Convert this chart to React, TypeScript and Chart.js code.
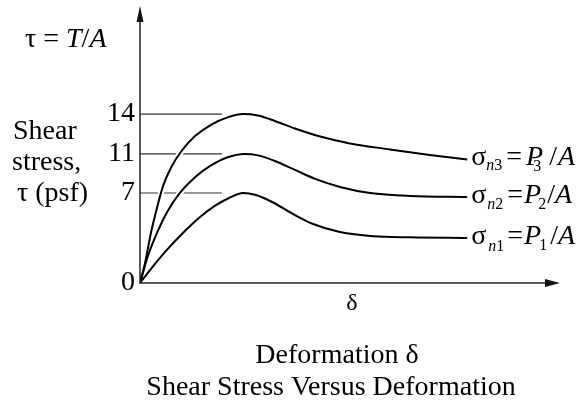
import React, { useEffect, useRef } from 'react';
import { Chart, registerables, LinearScale } from 'chart.js';

Chart.register(...registerables);

// ---------- data ----------
const Y_TICKS = [0, 7, 11, 14];
const Y_MAX = 22;
const X_MAX = 10;
const PEAK_LEVELS = [14, 11, 7];
const PEAK_LINE_END = 1.95;

const topX = [0, 0.12, 0.26, 0.41, 0.55, 0.74, 0.98, 1.31, 1.71, 2.1, 2.45, 2.81, 3.21, 3.69, 4.29, 5.0, 5.95, 6.9, 7.79];
const topY = [0, 1.56, 3.89, 5.91, 7.72, 9.61, 11.18, 12.34, 13.23, 13.77, 14.0, 13.89, 13.48, 12.91, 12.31, 11.79, 11.34, 10.9, 10.44];

const midX = [0, 0.19, 0.41, 0.64, 0.95, 1.31, 1.67, 2.07, 2.5, 2.81, 3.21, 3.69, 4.17, 4.76, 5.48, 6.43, 7.79];
const midY = [0, 2.12, 3.94, 5.49, 7.01, 8.62, 9.77, 10.64, 11.0, 10.85, 10.28, 9.36, 8.44, 7.62, 7.0, 6.77, 6.69];

const lowX = [0, 0.24, 0.64, 1.07, 1.43, 1.79, 2.12, 2.45, 2.76, 3.17, 3.64, 4.12, 4.76, 5.55, 6.43, 7.79];
const lowY = [0, 1.01, 2.57, 4.04, 5.13, 6.01, 6.61, 7.0, 6.84, 6.26, 5.37, 4.59, 3.97, 3.64, 3.55, 3.5];

const TITLE_LINES = ['Deformation δ', 'Shear Stress Versus Deformation'];
const X_LABEL = 'δ';
const Y_LABEL_LINES = ['Shear', 'stress,', 'τ (psf)'];

// ---------- scale (schematic, non-uniform tick spacing) ----------
const Y_BREAKS = [0, 7, 11, 14, Y_MAX];
const Y_FRACS = [0, 0.325, 0.466, 0.61, 1];

function interp(v: number, xs: number[], ys: number[]) {
  if (v <= xs[0]) return ys[0] + (v - xs[0]) * (ys[1] - ys[0]) / (xs[1] - xs[0]);
  for (let i = 1; i < xs.length; i++) {
    if (v <= xs[i]) {
      const t = (v - xs[i - 1]) / (xs[i] - xs[i - 1]);
      return ys[i - 1] + t * (ys[i] - ys[i - 1]);
    }
  }
  const n = xs.length - 1;
  return ys[n] + (v - xs[n]) * (ys[n] - ys[n - 1]) / (xs[n] - xs[n - 1]);
}

class SchematicScale extends LinearScale {
  static id = 'schematic';
  static defaults = LinearScale.defaults;
  getPixelForValue(value: number) {
    return this.getPixelForDecimal(interp(value, Y_BREAKS, Y_FRACS));
  }
  getValueForPixel(pixel: number) {
    return interp(this.getDecimalForPixel(pixel), Y_FRACS, Y_BREAKS);
  }
}
Chart.register(SchematicScale as any);

const FONT = "'Liberation Serif', 'Times New Roman', serif";

type Seg = { t: string; size?: number; italic?: boolean; dy?: number; kern?: number };

function drawRich(ctx: CanvasRenderingContext2D, x: number, baseline: number, segs: Seg[]) {
  ctx.textAlign = 'left';
  ctx.textBaseline = 'alphabetic';
  for (const s of segs) {
    ctx.font = `${s.italic ? 'italic ' : ''}${s.size || 28}px ${FONT}`;
    x += s.kern || 0;
    ctx.fillText(s.t, x, baseline + (s.dy || 0));
    x += ctx.measureText(s.t).width;
  }
}

const RIGHT_LABELS: Seg[][] = [
  [
    { t: 'σ' }, { t: 'n', size: 16, italic: true, dy: 5, kern: 0 }, { t: '3', size: 16, dy: 5 },
    { t: '=', kern: 4 }, { t: 'P', italic: true, kern: 4 }, { t: '3', size: 16, dy: 6, kern: -10 },
    { t: '/', kern: 8 }, { t: 'A', italic: true, kern: 1 },
  ],
  [
    { t: 'σ' }, { t: 'n', size: 16, italic: true, dy: 6, kern: 1 }, { t: '2', size: 16, dy: 6 },
    { t: '=', kern: 4 }, { t: 'P', italic: true, kern: 1 }, { t: '2', size: 16, dy: 6, kern: -3 },
    { t: '/', kern: 1 }, { t: 'A', italic: true },
  ],
  [
    { t: 'σ' }, { t: 'n', size: 16, italic: true, dy: 7, kern: 2 }, { t: '1', size: 16, dy: 7 },
    { t: '=', kern: 3 }, { t: 'P', italic: true, kern: 1 }, { t: '1', size: 16, dy: 6, kern: -2 },
    { t: '/', kern: 3 }, { t: 'A', italic: true },
  ],
];

const decorPlugin = {
  id: 'decor',
  afterDatasetsDraw(chart: any) {
    const ctx: CanvasRenderingContext2D = chart.ctx;
    const { left, right, top, bottom } = chart.chartArea;
    ctx.save();
    ctx.strokeStyle = '#222';
    ctx.fillStyle = '#111';
    ctx.lineWidth = 1.5;
    ctx.beginPath();
    ctx.moveTo(left, bottom + 0.5);
    ctx.lineTo(left, top + 10);
    ctx.stroke();
    ctx.beginPath();
    ctx.moveTo(left, top);
    ctx.lineTo(left - 3.5, top + 16);
    ctx.lineTo(left + 3.5, top + 16);
    ctx.closePath();
    ctx.fill();
    ctx.beginPath();
    ctx.moveTo(left - 0.5, bottom);
    ctx.lineTo(right - 10, bottom);
    ctx.stroke();
    ctx.beginPath();
    ctx.moveTo(right, bottom);
    ctx.lineTo(right - 15, bottom - 4);
    ctx.lineTo(right - 15, bottom + 4);
    ctx.closePath();
    ctx.fill();
    ctx.restore();
  },
  afterDraw(chart: any) {
    const ctx: CanvasRenderingContext2D = chart.ctx;
    const { left, right } = chart.chartArea;
    ctx.save();
    ctx.fillStyle = '#000';
    drawRich(ctx, 25, 47, [
      { t: 'τ = ' }, { t: 'T', italic: true }, { t: '/' }, { t: 'A', italic: true },
    ]);
    ctx.font = `28px ${FONT}`;
    ctx.textAlign = 'left';
    ctx.textBaseline = 'alphabetic';
    ctx.fillText(Y_LABEL_LINES[0], 13, 139);
    ctx.fillText(Y_LABEL_LINES[1], 12, 170);
    ctx.fillText(Y_LABEL_LINES[2], 17, 201);
    ctx.font = `24px ${FONT}`;
    ctx.textAlign = 'center';
    ctx.fillText(X_LABEL, (left + right) / 2 + 2, 310);
    ctx.font = `28px ${FONT}`;
    ctx.fillText(TITLE_LINES[0], 337, 363);
    ctx.fillText(TITLE_LINES[1], 331, 395);
    [6, 7, 8].forEach((dsIndex, i) => {
      const meta = chart.getDatasetMeta(dsIndex);
      const pt = meta.data[meta.data.length - 1];
      drawRich(ctx, pt.x + 4, pt.y + 6, RIGHT_LABELS[i]);
    });
    ctx.restore();
  },
};

function pts(xs: number[], ys: number[]) {
  return xs.map((x, i) => ({ x, y: ys[i] }));
}

export default function App() {
  const ref = useRef<HTMLCanvasElement>(null);
  useEffect(() => {
    if (!ref.current) return;
    const curves = [pts(topX, topY), pts(midX, midY), pts(lowX, lowY)];
    const hlines = PEAK_LEVELS.map((v) => ({
      data: [{ x: 0, y: v }, { x: PEAK_LINE_END, y: v }],
      borderColor: '#333',
      borderWidth: 1.2,
      pointRadius: 0,
      order: 30,
    }));
    const halos = curves.map((d) => ({
      data: d,
      borderColor: '#ffffff',
      borderWidth: 6,
      pointRadius: 0,
      cubicInterpolationMode: 'monotone' as const,
      order: 20,
    }));
    const lines = curves.map((d) => ({
      data: d,
      borderColor: '#000',
      borderWidth: 2,
      pointRadius: 0,
      cubicInterpolationMode: 'monotone' as const,
      order: 10,
    }));
    const chart = new Chart(ref.current, {
      type: 'line',
      data: { datasets: [...hlines, ...halos, ...lines] as any },
      options: {
        responsive: false,
        maintainAspectRatio: false,
        animation: false,
        events: [],
        layout: { padding: { top: 6, right: 21, left: 0, bottom: 0 } },
        plugins: { legend: { display: false }, tooltip: { enabled: false }, title: { display: false } },
        scales: {
          x: {
            type: 'linear',
            min: 0,
            max: X_MAX,
            grid: { display: false, drawTicks: false },
            border: { display: false },
            ticks: { display: false },
            afterFit: (s: any) => { s.height = 121; s.paddingLeft = 0; s.paddingRight = 0; },
          },
          y: {
            type: 'schematic' as any,
            min: 0,
            max: Y_MAX,
            grid: { display: false, drawTicks: false },
            border: { display: false },
            ticks: {
              autoSkip: false,
              padding: 5,
              color: '#000',
              font: { family: FONT, size: 28 },
              callback: (v: any) => String(v),
            },
            afterBuildTicks: (s: any) => { s.ticks = Y_TICKS.map((v) => ({ value: v })); },
            afterFit: (s: any) => { s.width = 140; s.paddingTop = 0; s.paddingBottom = 0; },
          },
        },
      },
      plugins: [decorPlugin],
    });
    return () => chart.destroy();
  }, []);
  return (
    <div style={{ position: 'absolute', left: 0, top: 0, width: 581, height: 404, background: '#fff' }}>
      <canvas ref={ref} width={581} height={404} style={{ display: 'block' }} />
    </div>
  );
}
